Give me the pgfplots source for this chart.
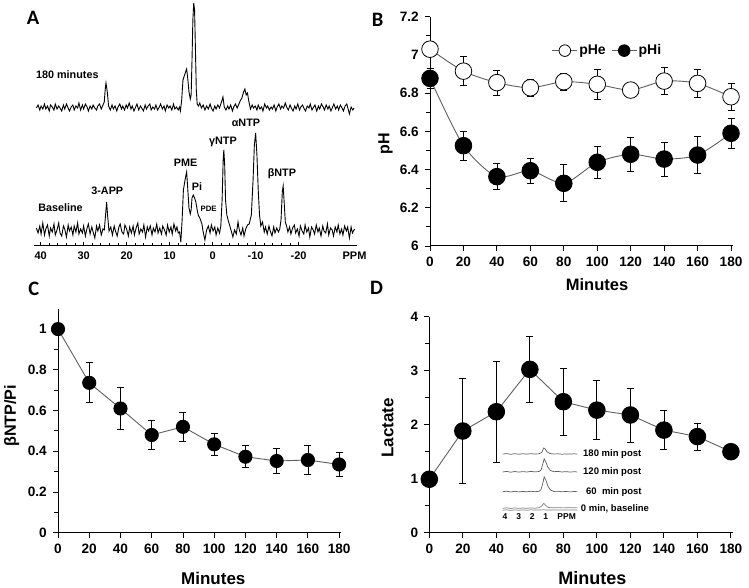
\documentclass[border=0pt]{standalone}
\usepackage{pgfplots}
\pgfplotsset{compat=1.18}
\usepackage{pgfplotstable}
\usepackage{fontspec}
\setmainfont{Liberation Sans}
\newfontfamily\letterfont{Carlito}
\definecolor{linegray}{RGB}{95,95,95}
\newcommand{\fs}[1]{\fontsize{#1bp}{#1bp}\selectfont\bfseries}

\pgfplotstableread{
x y e
0 7.03 0.04
20 6.915 0.075
40 6.855 0.065
60 6.828 0.043
80 6.86 0.044
100 6.846 0.078
120 6.816 0.04
140 6.863 0.07
160 6.851 0.075
180 6.781 0.072
}\pHe
\pgfplotstableread{
x y e
0 6.877 0.05
20 6.525 0.075
40 6.363 0.067
60 6.394 0.064
80 6.328 0.097
100 6.438 0.083
120 6.48 0.088
140 6.455 0.089
160 6.476 0.095
180 6.59 0.08
}\pHi
\pgfplotstableread{
x y e
0 1.0 0
20 0.736 0.098
40 0.61 0.105
60 0.48 0.07
80 0.52 0.07
100 0.434 0.053
120 0.373 0.054
140 0.352 0.061
160 0.357 0.07
180 0.335 0.058
}\ratio
\pgfplotstableread{
x y e
0 0.99 0
20 1.883 0.97
40 2.24 0.93
60 3.025 0.61
80 2.426 0.62
100 2.27 0.55
120 2.18 0.5
140 1.90 0.36
160 1.78 0.25
180 1.50 0
}\lact

\pgfplotsset{
  panel/.style={
    anchor=south west, scale only axis, clip=false,
    axis x line*=bottom, axis y line*=left,
    axis line style={-, black, line width=1bp},
    tick align=outside, tick style={black, line width=0.9bp},
    major tick length=5bp, minor tick length=4bp,
    xmin=0, xmax=181, xtick={0,20,...,180},
    /pgf/number format/assume math mode=true,
    /pgf/number format/fixed,
    tick label style={font=\fs{13.6}, inner sep=0pt},
    xticklabel style={yshift=-6bp},
    yticklabel style={xshift=-6bp},
  },
  ebar/.style={error bars/.cd, y dir=both, y explicit,
    error bar style={black, line width=0.8bp},
    error mark options={rotate=90, black, line width=0.8bp, mark size=3.5bp}},
}

\begin{document}
\begin{tikzpicture}
\useasboundingbox (0bp,0bp) rectangle (749bp,588bp);

% panel letters
\node[font=\letterfont\fontsize{20.5bp}{20bp}\selectfont\bfseries] at (33bp,570bp) {A};
\node[font=\letterfont\fontsize{20.5bp}{20bp}\selectfont\bfseries] at (377.5bp,568.3bp) {B};
\node[font=\letterfont\fontsize{20.5bp}{20bp}\selectfont\bfseries] at (33.7bp,299bp) {C};
\node[font=\letterfont\fontsize{20.5bp}{20bp}\selectfont\bfseries] at (376.7bp,299.7bp) {D};

% ---------------- Panel A: spectra
\begin{axis}[at={(34.2bp,342.3bp)}, anchor=south west, scale only axis,
  width=322.5bp, height=245.7bp, x dir=reverse,
  xmin=-33.5, xmax=41.5, ymin=4.3, ymax=250, clip=false,
  axis x line*=bottom, axis y line=none,
  axis line style={-, black, line width=1bp},
  xtick={40,30,...,-20}, minor x tick num=4,
  extra x ticks={-33}, extra x tick labels={PPM},
  extra x tick style={major tick length=0pt},
  tick align=inside, tick style={black, line width=0.7bp},
  major tick length=3.5bp, minor tick length=2.5bp,
  /pgf/number format/assume math mode=true,
  xticklabel style={font=\fs{11}, inner sep=0pt, yshift=-6bp},
]
\addplot[black, line width=0.9bp] coordinates {
(41,22) (40.6,17) (40.2,24) (39.9,16) (39.5,27) (39.1,15) (38.8,21) (38.4,25) (38,14) (37.7,22)
(37.3,18) (36.9,26) (36.6,15) (36.2,20) (35.8,27) (35.5,17) (35.1,14) (34.7,24) (34.4,21) (34,13)
(33.6,25) (33.3,19) (32.9,23) (32.5,15) (32.2,24) (31.8,18) (31.4,27) (31.1,16) (30.7,21) (30.3,17)
(30,24) (29.6,14) (29.2,22) (28.9,26) (28.5,16) (28.1,23) (27.8,18) (27.4,12) (27,24) (26.7,19)
(26.3,25) (25.9,15) (25.5,21) (25.2,20) (24.9,35) (24.65,48) (24.4,33) (24.1,19) (23.7,23)
(23.3,15) (22.9,24) (22.6,19) (22.2,14) (21.8,23) (21.5,26) (21.1,18) (20.7,16) (20.4,25) (20,21)
(19.6,14) (19.3,23) (18.9,17) (18.5,24) (18.2,15) (17.8,22) (17.4,27) (17.1,16) (16.7,21) (16.3,18)
(16,25) (15.6,13) (15.2,23) (14.9,19) (14.5,24) (14.1,15) (13.8,22) (13.4,18) (13,26) (12.7,17)
(12.3,22) (11.9,16) (11.6,24) (11.2,20) (10.8,15) (10.5,25) (10.1,18) (9.7,23) (9.4,16) (9,26)
(8.6,19) (8.3,23) (8,17)
(7.7,18) (7.4,8) (7.1,30) (6.8,60) (6.5,68) (6.2,75) (6.05,78) (5.8,62) (5.5,42) (5.2,36)
(5.0,40) (4.8,52) (4.5,55) (4.2,52) (3.9,48) (3.6,40) (3.3,34) (3.1,33) (2.8,30) (2.5,26)
(2.2,18) (1.8,10) (1.4,20) (1.0,24) (0.6,17) (0.3,25) (-0.1,19) (-0.5,23) (-0.8,15) (-1.2,22) (-1.6,17) (-1.9,24)
(-2.2,50) (-2.45,90) (-2.6,100) (-2.8,85) (-3.0,50) (-3.3,35) (-3.6,30) (-4.0,24) (-4.4,18)
(-4.7,13) (-5.1,20) (-5.5,16) (-5.9,28) (-6.2,20) (-6.6,15) (-7,22) (-7.3,14) (-7.7,21) (-8.1,25) (-8.5,26)
(-9.0,35) (-9.4,70) (-9.7,105) (-10,117) (-10.3,95) (-10.6,60) (-10.9,35) (-11.2,24)
(-11.6,28) (-12,18) (-12.3,23) (-12.7,16) (-13.1,24) (-13.4,19) (-13.8,14) (-14.2,23) (-14.5,17) (-14.9,22) (-15.3,18) (-15.6,21)
(-15.9,30) (-16.2,58) (-16.4,64) (-16.6,50) (-16.9,28) (-17.2,24) (-17.5,18) (-17.9,23)
(-18.2,16) (-18.6,22) (-19,25) (-19.3,17) (-19.7,21) (-20.1,14) (-20.4,24) (-20.8,19) (-21.2,16)
(-21.5,25) (-21.9,18) (-22.3,22) (-22.6,13) (-23,23) (-23.4,20) (-23.7,16) (-24.1,25) (-24.5,18)
(-24.8,22) (-25.2,14) (-25.6,24) (-25.9,19) (-26.3,17) (-26.7,26) (-27,15) (-27.4,22) (-27.8,20)
(-28.1,14) (-28.5,23) (-28.9,18) (-29.2,25) (-29.6,16) (-30,21) (-30.3,15) (-30.7,24) (-31.1,19)
(-31.4,23) (-31.8,12) (-32.2,23) (-32.5,17) (-33,21)
};
\addplot[black, line width=0.9bp] coordinates {
(41,142) (40.6,145) (40.2,140) (39.9,144) (39.5,141) (39.1,146) (38.8,141) (38.4,144) (38,139)
(37.7,145) (37.3,143) (36.9,140) (36.6,146) (36.2,141) (35.8,144) (35.5,142) (35.1,139) (34.7,145)
(34.4,141) (34,146) (33.6,142) (33.3,139) (32.9,143) (32.5,145) (32.2,140) (31.8,144) (31.4,142)
(31.1,147) (30.7,140) (30.3,145) (30,141) (29.6,146) (29.2,143) (28.9,139) (28.5,144) (28.1,141)
(27.8,145) (27.4,142) (27,140) (26.7,144) (26.3,146) (25.9,141) (25.5,145) (25.2,148) (25,160) (24.8,167) (24.5,158)
(24.2,144) (23.8,140) (23.4,145) (23.1,141) (22.7,144) (22.3,139) (22,143) (21.6,146)
(21.2,141) (20.9,144) (20.5,140) (20.1,145) (19.8,142) (19.4,147) (19,141) (18.7,144)
(18.3,139) (17.9,143) (17.6,146) (17.2,140) (16.8,144) (16.5,142) (16.1,139) (15.7,145)
(15.4,141) (15,144) (14.6,146) (14.3,140) (13.9,143) (13.5,141) (13.2,145) (12.8,140)
(12.4,143) (12.1,146) (11.7,141) (11.3,144) (11,139) (10.6,145) (10.2,142) (9.9,144) (9.5,140)
(9.1,146) (8.8,141) (8.4,143) (8,140) (7.7,143)
(7.5,139) (7.2,150) (6.9,170) (6.6,174) (6.3,178) (6.05,181) (5.8,172) (5.5,158) (5.2,151)
(5.0,155) (4.8,190) (4.6,230) (4.4,247) (4.2,240) (4.0,200) (3.8,160)
(3.6,146) (3.3,144) (3.0,147) (2.6,142) (2.2,145) (1.8,140) (1.4,144) (1.0,141) (0.6,146)
(0.3,142) (-0.1,139) (-0.5,144) (-0.8,141) (-1.2,145) (-1.6,142) (-1.9,146) (-2.2,150) (-2.4,153) (-2.7,143)
(-3.1,140) (-3.5,144) (-3.8,141) (-4.2,145) (-4.6,139) (-4.9,143) (-5.3,146) (-5.7,142) (-6.1,146) (-6.4,149)
(-6.8,152) (-7.2,158) (-7.5,161) (-7.8,155) (-8.1,157) (-8.4,149) (-8.8,141) (-9.2,145)
(-9.5,142) (-9.9,144) (-10.3,140) (-10.6,145) (-11,141) (-11.4,143) (-11.7,139)
(-12.1,146) (-12.5,142) (-12.8,144) (-13.2,140) (-13.6,143) (-13.9,141) (-14.3,145)
(-14.7,139) (-15,143) (-15.4,146) (-15.8,141) (-16.1,144) (-16.5,142) (-16.9,147)
(-17.2,143) (-17.6,140) (-18,145) (-18.3,142) (-18.7,139) (-19.1,144) (-19.4,141)
(-19.8,146) (-20.2,140) (-20.5,143) (-20.9,145) (-21.3,141) (-21.6,139) (-22,144)
(-22.4,142) (-22.7,146) (-23.1,140) (-23.5,143) (-23.8,145) (-24.2,139) (-24.6,144)
(-24.9,141) (-25.3,146) (-25.7,143) (-26,140) (-26.4,145) (-26.8,141) (-27.1,144)
(-27.5,139) (-27.9,143) (-28.2,146) (-28.6,141) (-29,144) (-29.3,140) (-29.7,145)
(-30.1,142) (-30.4,139) (-30.8,144) (-31.2,146) (-31.5,141) (-31.8,136) (-32.2,143) (-32.6,140) (-32.9,142)
};
\node[font=\fs{10.8}, anchor=west, inner sep=0pt] at (axis cs:41.1,175) {180 minutes};
\node[font=\fs{10.8}, anchor=west, inner sep=0pt] at (axis cs:40.6,42) {Baseline};
\node[font=\fs{10.8}, inner sep=0pt] at (axis cs:24.5,59.3) {3-APP};
\node[font=\fs{10.8}, inner sep=0pt] at (axis cs:6.3,87.3) {PME};
\node[font=\fs{10.8}, inner sep=0pt] at (axis cs:3.65,63.3) {Pi};
\node[font=\fs{7.8}, inner sep=0pt] at (axis cs:0.93,40.7) {PDE};
\node[font=\fs{10.8}, inner sep=0pt] at (axis cs:-2.4,108.3) {γNTP};
\node[font=\fs{10.8}, inner sep=0pt] at (axis cs:-7.75,127.3) {αNTP};
\node[font=\fs{10.8}, inner sep=0pt] at (axis cs:-16.1,76.7) {βNTP};
\end{axis}

% ---------------- Panel B: pH
\begin{axis}[panel, at={(430bp,342bp)}, width=302.7bp, height=229.3bp,
  ymin=6, ymax=7.2, ytick={6,6.2,6.4,6.6,6.8,7,7.2}, minor y tick num=1,
  legend style={at={(0.402,0.852)}, anchor=west, draw=none, fill=none,
    legend columns=2, font=\fs{14}, inner sep=0pt,
    nodes={inner sep=1.5bp},
    /tikz/every even column/.append style={column sep=4bp}},
  legend image code/.code={%
    \draw[linegray, line width=0.9bp] (0bp,0bp) -- (25bp,0bp);
    \draw[#1, mark size=5.8bp] plot coordinates {(12.5bp,0bp)};},
]
\addplot[linegray, line width=0.9bp, smooth, tension=0.45, mark=*,
  mark size=8.3bp, mark options={fill=white, draw=black, line width=0.8bp}, ebar]
  table[x=x, y=y, y error=e] {\pHe};
\addlegendentry{pHe}
\addplot[linegray, line width=0.9bp, smooth, tension=0.45, mark=*,
  mark size=8.3bp, mark options={fill=black, draw=black}, ebar]
  table[x=x, y=y, y error=e] {\pHi};
\addlegendentry{pHi}
\end{axis}
\node[font=\fs{16}, rotate=90] at (385.5bp,444bp) {pH};
\node[font=\fs{16.5}] at (597bp,303bp) {Minutes};

% ---------------- Panel C: ratio
\begin{axis}[panel, at={(58bp,55.3bp)}, width=282.7bp, height=224bp,
  ymin=0, ymax=1.1, ytick={0,0.2,0.4,0.6,0.8,1}, minor y tick num=1,
]
\addplot[linegray, line width=0.9bp, mark=*,
  mark size=6.6bp, mark options={fill=black, draw=black}, ebar]
  table[x=x, y=y, y error=e] {\ratio};
\end{axis}
\node[font=\fs{16.2}, rotate=90] at (11.7bp,172.2bp) {βNTP/Pi};
\node[font=\fs{17}] at (213.3bp,9.7bp) {Minutes};

% ---------------- Panel D: lactate
\begin{axis}[panel, at={(429.3bp,55.3bp)}, width=303.3bp, height=216bp,
  ymin=0, ymax=4, ytick={0,1,2,3,4}, minor y tick num=1,
]
\addplot[linegray, line width=0.9bp, mark=*,
  mark size=8.3bp, mark options={fill=black, draw=black}, ebar]
  table[x=x, y=y, y error=e] {\lact};
\end{axis}
\node[font=\fs{17}, rotate=90] at (387.5bp,160bp) {Lactate};
\node[font=\fs{18}] at (592.3bp,9.7bp) {Minutes};

% ---------------- Inset in D: lactate spectra
\begin{axis}[at={(502.6bp,68bp)}, anchor=south west, scale only axis,
  width=74.9bp, height=80bp, x dir=reverse, xmin=-1.35, xmax=4.2,
  ymin=0, ymax=80, hide axis, clip=false]
\addplot[linegray, line width=0.7bp] coordinates {
(4.2,66) (3.9,66.4) (3.6,65.7) (3.3,66.3) (3.0,65.8) (2.7,66.2) (2.4,65.9) (2.1,66.3)
(1.8,66) (1.5,66.2) (1.3,67.5) (1.15,72) (1.05,71) (0.9,68) (0.7,66.5) (0.4,66)
(0.1,66.2) (-0.2,65.8) (-0.5,66.1) (-0.8,65.9) (-1.1,66.2) (-1.34,66)};
\addplot[linegray, line width=0.7bp] coordinates {
(4.2,48) (3.9,48.6) (3.6,47.8) (3.3,48.5) (3.0,47.9) (2.7,48.4) (2.4,48) (2.1,48.6)
(1.8,48.1) (1.5,48.5) (1.35,50) (1.2,57) (1.12,61.3) (1.0,58) (0.85,53) (0.65,49.5)
(0.4,48.3) (0.1,48.6) (-0.2,48) (-0.5,48.4) (-0.8,47.9) (-1.1,48.3) (-1.34,48)};
\addplot[linegray, line width=0.7bp] coordinates {
(4.2,28.3) (3.9,28.8) (3.6,28) (3.3,28.7) (3.0,28.1) (2.7,28.6) (2.4,28.2) (2.1,28.7)
(1.8,28.3) (1.5,28.7) (1.35,30.5) (1.2,38) (1.12,43.3) (1.0,40) (0.85,34) (0.65,30)
(0.4,28.5) (0.1,28.8) (-0.2,28.2) (-0.5,28.6) (-0.8,28.1) (-1.1,28.5) (-1.34,28.3)};
\addplot[gray, line width=0.7bp] coordinates {
(4.2,11.7) (3.9,12.2) (3.6,11.5) (3.3,12.1) (3.0,11.6) (2.7,12) (2.4,11.7) (2.1,12.1)
(1.8,11.8) (1.5,12.3) (1.3,14) (1.15,16.7) (1.0,14.5) (0.8,12.5) (0.5,12.2)
(0.1,12.4) (-0.3,12.1) (-0.7,12.4) (-1.0,12.2) (-1.34,12.3)};
\addplot[gray, line width=0.7bp] coordinates {
(4.2,9.8) (3.9,10.2) (3.6,9.6) (3.3,10.1) (3.0,9.7) (2.7,10.1) (2.4,9.8) (2.1,10.2)
(1.8,9.9) (1.5,10) (1.15,10.2) (0.8,9.9) (0.4,10) (0,9.9) (-0.5,10) (-1.0,9.9) (-1.34,10)};
\end{axis}
\node[font=\fs{8.5}, inner sep=0pt] at (505bp,71.3bp) {4};
\node[font=\fs{8.5}, inner sep=0pt] at (518.7bp,71.3bp) {3};
\node[font=\fs{8.5}, inner sep=0pt] at (532.2bp,71.3bp) {2};
\node[font=\fs{8.5}, inner sep=0pt] at (545.7bp,71.3bp) {1};
\node[font=\fs{8.5}, inner sep=0pt] at (566.7bp,71.3bp) {PPM};
\node[font=\fs{9.5}, anchor=west, inner sep=0pt] at (583bp,134bp) {180 min post};
\node[font=\fs{9.5}, anchor=west, inner sep=0pt] at (583bp,116.3bp) {120 min post};
\node[font=\fs{9.5}, anchor=west, inner sep=0pt] at (586bp,96.3bp) {60\ \ min post};
\node[font=\fs{9.5}, anchor=west, inner sep=0pt] at (580.7bp,79.7bp) {0 min, baseline};
\end{tikzpicture}
\end{document}
